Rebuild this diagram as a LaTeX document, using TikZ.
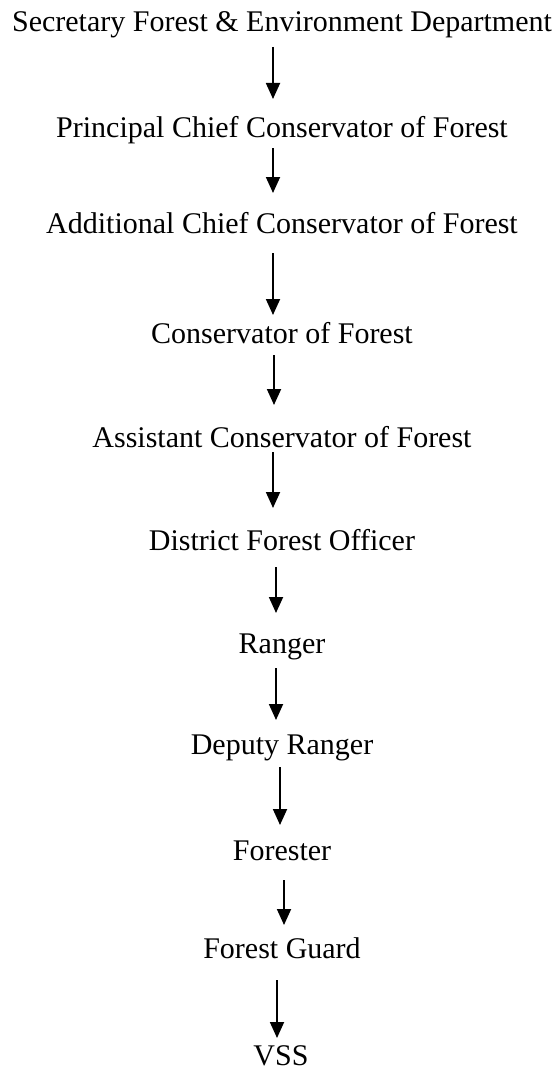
\documentclass[tikz,border=0pt]{standalone}
\usepackage{fontspec}
\setmainfont{Liberation Serif}
\usetikzlibrary{arrows.meta}
\tikzset{
  lbl/.style={anchor=base, inner sep=0pt, font=\fontsize{30}{35}\selectfont},
  arr/.style={line width=1.8pt, -{Triangle[width=14pt,length=16pt]}}
}
\begin{document}
\begin{tikzpicture}[x=1pt,y=1pt]
\useasboundingbox (0,0) rectangle (558,-1070);
\node[lbl] (n1) at (282,-32) {Secretary Forest \& Environment Department};
\node[lbl] (n2) at (282,-137) {Principal Chief Conservator of Forest};
\node[lbl] (n3) at (282,-233) {Additional Chief Conservator of Forest};
\node[lbl] (n4) at (282,-343) {Conservator of Forest};
\node[lbl] (n5) at (282,-447) {Assistant Conservator of Forest};
\node[lbl] (n6) at (282,-550) {District Forest Officer};
\node[lbl] (n7) at (282,-653) {Ranger};
\node[lbl] (n8) at (282,-754) {Deputy Ranger};
\node[lbl] (n9) at (282,-860) {Forester};
\node[lbl] (n10) at (282,-958) {Forest Guard};
\node[lbl] (n11) at (281,-1065) {VSS};
\coordinate (s1) at (273,-47);  \coordinate (e1) at (273,-99);
\coordinate (s2) at (273,-148); \coordinate (e2) at (273,-193);
\coordinate (s3) at (273,-253); \coordinate (e3) at (273,-315);
\coordinate (s4) at (274,-355); \coordinate (e4) at (274,-405);
\coordinate (s5) at (273,-452); \coordinate (e5) at (273,-508);
\coordinate (s6) at (276,-567); \coordinate (e6) at (276,-613);
\coordinate (s7) at (276,-668); \coordinate (e7) at (276,-720);
\coordinate (s8) at (280,-767); \coordinate (e8) at (280,-825);
\coordinate (s9) at (284,-880); \coordinate (e9) at (284,-925);
\coordinate (s10) at (277,-980); \coordinate (e10) at (277,-1038);
\foreach \i in {1,...,10} { \draw[arr] (s\i) -- (e\i); }
\end{tikzpicture}
\end{document}
